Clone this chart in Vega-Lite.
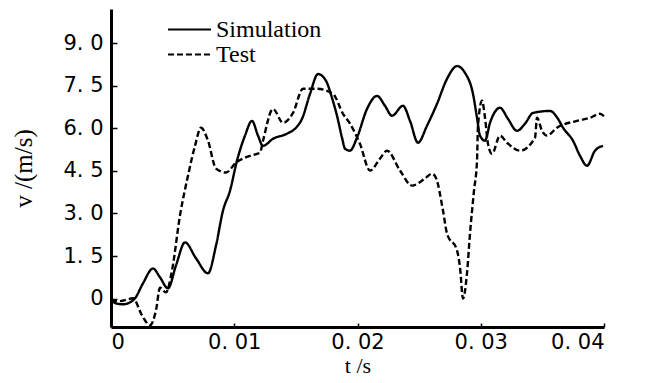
{
  "$schema": "https://vega.github.io/schema/vega-lite/v6.json",
  "width": 493,
  "height": 318,
  "autosize": {"type": "none"},
  "padding": {"left": 111, "top": 9, "right": 43, "bottom": 56},
  "background": "white",
  "config": {
    "view": {"stroke": null},
    "axis": {"grid": false, "domainColor": "black", "tickColor": "black", "labelColor": "black", "titleColor": "black"}
  },
  "datasets": {
    "curves": [
      {"series": "Simulation", "t": 0.0, "v": -0.06},
      {"series": "Simulation", "t": 0.000406, "v": -0.165},
      {"series": "Simulation", "t": 0.000974, "v": -0.2},
      {"series": "Simulation", "t": 0.001542, "v": -0.13},
      {"series": "Simulation", "t": 0.001947, "v": 0.01},
      {"series": "Simulation", "t": 0.002596, "v": 0.54},
      {"series": "Simulation", "t": 0.003408, "v": 1.06},
      {"series": "Simulation", "t": 0.003976, "v": 0.75},
      {"series": "Simulation", "t": 0.004625, "v": 0.36},
      {"series": "Simulation", "t": 0.005274, "v": 1.17},
      {"series": "Simulation", "t": 0.006004, "v": 1.98},
      {"series": "Simulation", "t": 0.006897, "v": 1.42},
      {"series": "Simulation", "t": 0.00787, "v": 0.89},
      {"series": "Simulation", "t": 0.00852, "v": 1.87},
      {"series": "Simulation", "t": 0.009087, "v": 3.1},
      {"series": "Simulation", "t": 0.009655, "v": 3.8},
      {"series": "Simulation", "t": 0.010223, "v": 4.86},
      {"series": "Simulation", "t": 0.010872, "v": 5.74},
      {"series": "Simulation", "t": 0.01144, "v": 6.26},
      {"series": "Simulation", "t": 0.011927, "v": 5.74},
      {"series": "Simulation", "t": 0.012333, "v": 5.38},
      {"series": "Simulation", "t": 0.013144, "v": 5.63},
      {"series": "Simulation", "t": 0.01428, "v": 5.81},
      {"series": "Simulation", "t": 0.01501, "v": 6.02},
      {"series": "Simulation", "t": 0.015497, "v": 6.33},
      {"series": "Simulation", "t": 0.016146, "v": 7.21},
      {"series": "Simulation", "t": 0.016795, "v": 7.91},
      {"series": "Simulation", "t": 0.017444, "v": 7.67},
      {"series": "Simulation", "t": 0.017931, "v": 7.07},
      {"series": "Simulation", "t": 0.018337, "v": 6.44},
      {"series": "Simulation", "t": 0.018742, "v": 5.67},
      {"series": "Simulation", "t": 0.018986, "v": 5.28},
      {"series": "Simulation", "t": 0.019391, "v": 5.21},
      {"series": "Simulation", "t": 0.019959, "v": 5.67},
      {"series": "Simulation", "t": 0.020771, "v": 6.68},
      {"series": "Simulation", "t": 0.021582, "v": 7.14},
      {"series": "Simulation", "t": 0.022231, "v": 6.79},
      {"series": "Simulation", "t": 0.022799, "v": 6.44},
      {"series": "Simulation", "t": 0.023692, "v": 6.79},
      {"series": "Simulation", "t": 0.02426, "v": 6.26},
      {"series": "Simulation", "t": 0.024909, "v": 5.49},
      {"series": "Simulation", "t": 0.025639, "v": 6.09},
      {"series": "Simulation", "t": 0.02645, "v": 6.86},
      {"series": "Simulation", "t": 0.027262, "v": 7.74},
      {"series": "Simulation", "t": 0.028073, "v": 8.19},
      {"series": "Simulation", "t": 0.028722, "v": 7.95},
      {"series": "Simulation", "t": 0.029371, "v": 7.21},
      {"series": "Simulation", "t": 0.029696, "v": 6.37},
      {"series": "Simulation", "t": 0.029939, "v": 5.74},
      {"series": "Simulation", "t": 0.030345, "v": 5.56},
      {"series": "Simulation", "t": 0.030751, "v": 6.19},
      {"series": "Simulation", "t": 0.031562, "v": 6.72},
      {"series": "Simulation", "t": 0.032211, "v": 6.33},
      {"series": "Simulation", "t": 0.032941, "v": 5.91},
      {"series": "Simulation", "t": 0.03359, "v": 6.16},
      {"series": "Simulation", "t": 0.034239, "v": 6.54},
      {"series": "Simulation", "t": 0.035619, "v": 6.61},
      {"series": "Simulation", "t": 0.036268, "v": 6.33},
      {"series": "Simulation", "t": 0.036673, "v": 6.02},
      {"series": "Simulation", "t": 0.037485, "v": 5.56},
      {"series": "Simulation", "t": 0.038053, "v": 5.03},
      {"series": "Simulation", "t": 0.038621, "v": 4.68},
      {"series": "Simulation", "t": 0.03927, "v": 5.21},
      {"series": "Simulation", "t": 0.039919, "v": 5.38},
      {"series": "Test", "t": 0.0, "v": -0.06},
      {"series": "Test", "t": 0.00073, "v": -0.09},
      {"series": "Test", "t": 0.001785, "v": 0.01},
      {"series": "Test", "t": 0.002515, "v": -0.59},
      {"series": "Test", "t": 0.003164, "v": -0.94},
      {"series": "Test", "t": 0.003651, "v": -0.41},
      {"series": "Test", "t": 0.003976, "v": 0.38},
      {"series": "Test", "t": 0.004462, "v": 0.22},
      {"series": "Test", "t": 0.004949, "v": 0.99},
      {"series": "Test", "t": 0.005598, "v": 2.93},
      {"series": "Test", "t": 0.006247, "v": 4.33},
      {"series": "Test", "t": 0.006815, "v": 5.38},
      {"series": "Test", "t": 0.007302, "v": 6.02},
      {"series": "Test", "t": 0.00787, "v": 5.56},
      {"series": "Test", "t": 0.00852, "v": 4.58},
      {"series": "Test", "t": 0.009331, "v": 4.44},
      {"series": "Test", "t": 0.010142, "v": 4.79},
      {"series": "Test", "t": 0.011278, "v": 5.03},
      {"series": "Test", "t": 0.012089, "v": 5.14},
      {"series": "Test", "t": 0.012333, "v": 5.56},
      {"series": "Test", "t": 0.013144, "v": 6.68},
      {"series": "Test", "t": 0.013955, "v": 6.19},
      {"series": "Test", "t": 0.014767, "v": 6.54},
      {"series": "Test", "t": 0.015578, "v": 7.39},
      {"series": "Test", "t": 0.016714, "v": 7.39},
      {"series": "Test", "t": 0.018012, "v": 7.21},
      {"series": "Test", "t": 0.018824, "v": 6.51},
      {"series": "Test", "t": 0.019391, "v": 6.16},
      {"series": "Test", "t": 0.020203, "v": 5.45},
      {"series": "Test", "t": 0.021014, "v": 4.51},
      {"series": "Test", "t": 0.021826, "v": 4.93},
      {"series": "Test", "t": 0.022394, "v": 5.21},
      {"series": "Test", "t": 0.023448, "v": 4.51},
      {"series": "Test", "t": 0.024422, "v": 3.98},
      {"series": "Test", "t": 0.025477, "v": 4.23},
      {"series": "Test", "t": 0.026045, "v": 4.4},
      {"series": "Test", "t": 0.02637, "v": 4.25},
      {"series": "Test", "t": 0.026937, "v": 3.1},
      {"series": "Test", "t": 0.027262, "v": 2.29},
      {"series": "Test", "t": 0.028073, "v": 1.7},
      {"series": "Test", "t": 0.028317, "v": 1.1},
      {"series": "Test", "t": 0.02856, "v": 0.0},
      {"series": "Test", "t": 0.028884, "v": 0.89},
      {"series": "Test", "t": 0.029128, "v": 2.29},
      {"series": "Test", "t": 0.029452, "v": 3.8},
      {"series": "Test", "t": 0.029696, "v": 4.86},
      {"series": "Test", "t": 0.029777, "v": 6.09},
      {"series": "Test", "t": 0.030101, "v": 6.97},
      {"series": "Test", "t": 0.030345, "v": 6.37},
      {"series": "Test", "t": 0.030588, "v": 5.45},
      {"series": "Test", "t": 0.030913, "v": 5.1},
      {"series": "Test", "t": 0.031562, "v": 5.74},
      {"series": "Test", "t": 0.03213, "v": 5.49},
      {"series": "Test", "t": 0.033185, "v": 5.21},
      {"series": "Test", "t": 0.034402, "v": 5.67},
      {"series": "Test", "t": 0.034564, "v": 6.37},
      {"series": "Test", "t": 0.03497, "v": 5.91},
      {"series": "Test", "t": 0.035375, "v": 5.74},
      {"series": "Test", "t": 0.036187, "v": 6.02},
      {"series": "Test", "t": 0.037809, "v": 6.26},
      {"series": "Test", "t": 0.038864, "v": 6.37},
      {"series": "Test", "t": 0.039675, "v": 6.51},
      {"series": "Test", "t": 0.04, "v": 6.43}
    ]
  },
  "layer": [
    {
      "mark": {"type": "rule", "color": "black", "strokeWidth": 2.5},
      "encoding": {"y": {"datum": 0, "type": "quantitative", "scale": {"domain": [-1, 10.2], "nice": false, "zero": false}}}
    },
    {
      "data": {"name": "curves"},
      "mark": {"type": "line", "color": "black", "strokeWidth": 2.4, "interpolate": "monotone"},
      "encoding": {
        "x": {
          "field": "t", "type": "quantitative",
          "scale": {"domain": [0, 0.04], "nice": false, "zero": false},
          "axis": {
            "title": "t /s", "values": [0, 0.01, 0.02, 0.03, 0.04],
            "labelExpr": "datum.value == 0 ? '0' : replace(format(datum.value, '.2f'), '.', '. ')",
            "labelFont": "DejaVu Sans", "labelFontSize": 21, "labelPadding": 8,
            "tickSize": -4, "tickWidth": 1.5, "domainWidth": 3,
            "titleFont": "Liberation Serif", "titleFontSize": 22, "titleFontWeight": "normal", "titlePadding": 3
          }
        },
        "y": {
          "field": "v", "type": "quantitative",
          "scale": {"domain": [-1, 10.2], "nice": false, "zero": false},
          "axis": {
            "title": "v /(m/s)", "values": [0, 1.5, 3, 4.5, 6, 7.5, 9],
            "labelExpr": "datum.value == 0 ? '0' : replace(format(datum.value, '.1f'), '.', '. ')",
            "labelFont": "DejaVu Sans", "labelFontSize": 21, "labelPadding": 14,
            "tickSize": -6, "tickWidth": 1.5, "domainWidth": 3,
            "titleFont": "Liberation Serif", "titleFontSize": 25, "titleFontWeight": "normal", "titlePadding": 26
          }
        },
        "strokeDash": {
          "field": "series", "type": "nominal",
          "scale": {"domain": ["Simulation", "Test"], "range": [[1, 0], [6, 3]]},
          "legend": {
            "title": null, "orient": "none", "legendX": 56, "legendY": 9,
            "symbolType": "stroke", "symbolSize": 1849, "symbolStrokeWidth": 2, "symbolStrokeColor": "black",
            "clipHeight": 23, "labelFont": "Liberation Serif", "labelFontSize": 24, "labelColor": "black",
            "labelOffset": 4, "rowPadding": 0
          }
        }
      }
    }
  ]
}
